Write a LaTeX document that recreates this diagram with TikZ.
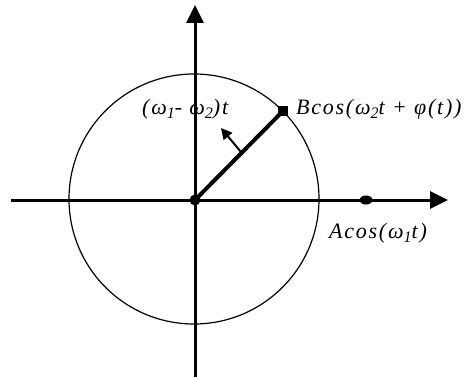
\documentclass[tikz,border=0pt]{standalone}
\usepackage{fontspec}
\setmainfont{Liberation Serif}
\newfontfamily\lblfont[LetterSpace=8]{Liberation Serif}
\newcommand\lowsub[1]{\raisebox{-0.22em}{\fontsize{16}{16}\selectfont #1}}
\usetikzlibrary{arrows.meta,calc,shapes.geometric}
\begin{document}
\begin{tikzpicture}[x=1pt,y=-1pt,
  axisline/.style={line width=3pt,-{Triangle[length=18pt,width=17pt]}},
  vecline/.style={line width=4pt},
  rotarrow/.style={line width=2pt,-{Triangle[length=11pt,width=11pt]}},
  circ/.style={line width=1.2pt},
  sqmark/.style={fill=black,inner sep=0pt,minimum size=10pt,rectangle},
  ovmark/.style={fill=black,inner sep=0pt,ellipse,minimum width=13pt,minimum height=9pt},
  omark/.style={fill=black,inner sep=0pt,circle,minimum size=11pt},
  lbl/.style={font=\lblfont\fontsize{22}{25}\selectfont\itshape,inner sep=0pt,anchor=base west}]
\useasboundingbox (0,0) rectangle (470,377);
\coordinate (O) at (195,200);
\coordinate (xl) at (11,200);
\coordinate (xr) at (448,200);
\coordinate (yb) at (195,377);
\coordinate (yt) at (195,5);
\draw[circ] (194,199) circle[radius=125];
\draw[axisline] (xl) -- (xr);
\draw[axisline] (yb) -- (yt);
\node[sqmark] (B) at (283,111) {};
\node[ovmark] (A) at (366,200) {};
\node[omark] (Od) at (O) {};
\draw[vecline] (Od.center) -- (B.center);
\coordinate (M) at ($(O)!0.53!(B)$);
\coordinate (T) at (221,128);
\draw[rotarrow] (M) -- (T);
\node[lbl] (lb) at (296,114) {Bcos(ω\lowsub{2}t + φ(t))};
\node[lbl] (la) at (329,238) {Acos(ω\lowsub{1}t)};
\node[lbl] (lw) at (142,114) {(ω\lowsub{1}- ω\lowsub{2})t};
\end{tikzpicture}
\end{document}
